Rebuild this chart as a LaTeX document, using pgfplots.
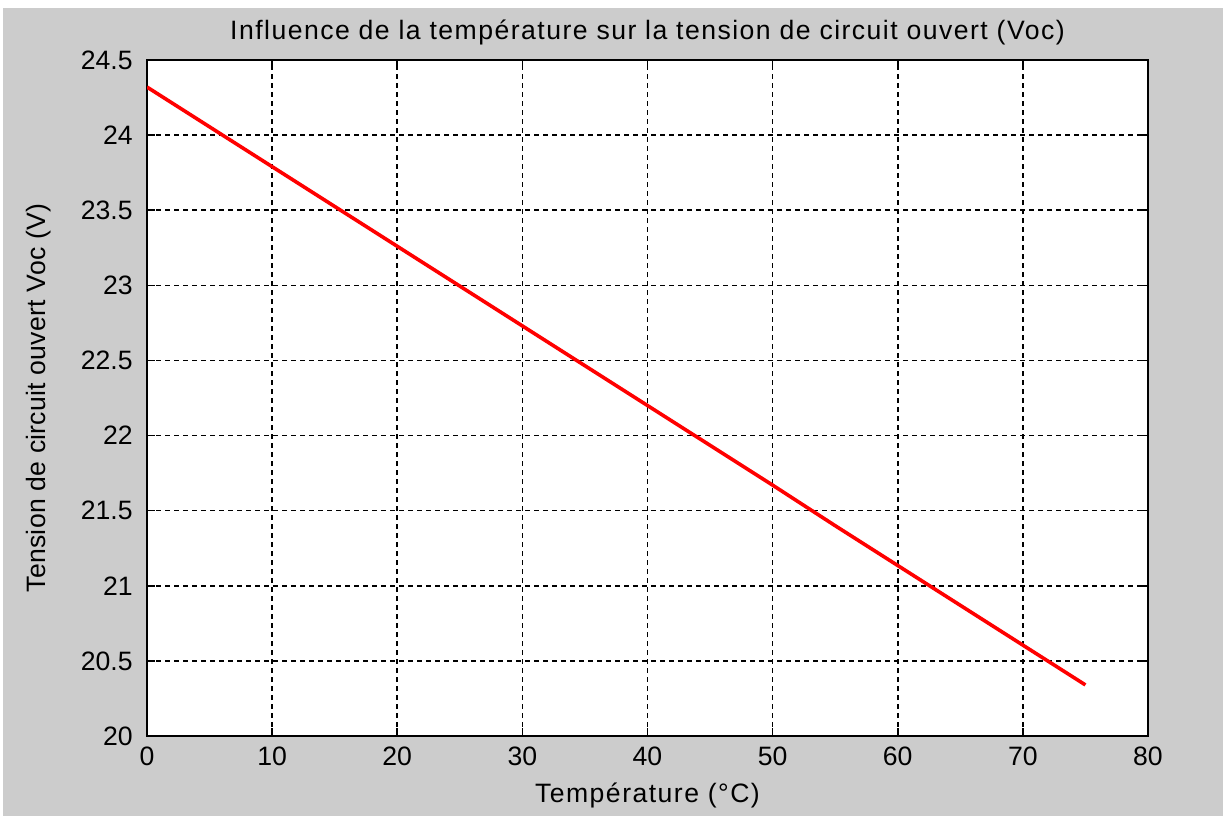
\documentclass[border=0pt]{standalone}
\usepackage{pgfplots}
\pgfplotsset{compat=1.18}
\usepackage{fontspec}
\setmainfont{Liberation Sans}
\definecolor{figgray}{gray}{0.8}
\begin{document}
\begin{tikzpicture}[x=1pt,y=1pt]
\fill[figgray] (1.5,0) rectangle (611.5,404);
\path[use as bounding box] (0,0) rectangle (611.5,408);
\begin{axis}[
  at={(73.5pt,40pt)}, anchor=south west,
  width=500.5pt, height=338pt, scale only axis,
  xmin=0, xmax=80, ymin=20, ymax=24.5,
  xtick={0,10,20,30,40,50,60,70,80},
  ytick={20,20.5,21,21.5,22,22.5,23,23.5,24,24.5},
  yticklabels={20,20.5,21,21.5,22,22.5,23,23.5,24,24.5},
  axis background/.style={fill=white},
  grid=major,
  major grid style={black, line width=0.8pt, dash pattern=on 2.5pt off 2pt},
  tick align=inside, major tick length=4pt,
  axis line style={black, line width=0.8pt},
  tick style={black, line width=0.8pt},
  font=\fontsize{13.3}{16}\selectfont,
  /pgf/number format/assume math mode=true,
  every axis title shift=0pt,
  yticklabel style={inner sep=0pt, anchor=east, xshift=-7pt},
  xticklabel style={inner sep=0pt, anchor=north, yshift=-5.5pt},
  title={\addfontfeature{LetterSpace=5.5}Influence de la température sur la tension de circuit ouvert (Voc)},
  title style={at={(axis description cs:0.5,1)}, anchor=base, yshift=10.5pt, inner sep=0pt},
  xlabel={\addfontfeature{LetterSpace=5.5}Température (°C)},
  xlabel style={at={([yshift=-33pt]axis description cs:0.5,0)}, anchor=base, inner sep=0pt},
  ylabel={\addfontfeature{LetterSpace=1}Tension de circuit ouvert Voc (V)},
  ylabel style={at={([xshift=-50.5pt]axis description cs:0,0.5)}, anchor=base, rotate=0, inner sep=0pt},
]
\addplot[red, line width=1.8pt] coordinates {
(0,24.32) (5,24.055) (10,23.79) (15,23.525) (20,23.26) (25,22.995) (30,22.73)
(35,22.465) (40,22.20) (45,21.935) (50,21.67) (55,21.40) (60,21.135)
(65,20.87) (70,20.605) (75,20.34)
};
\end{axis}
\end{tikzpicture}
\end{document}
